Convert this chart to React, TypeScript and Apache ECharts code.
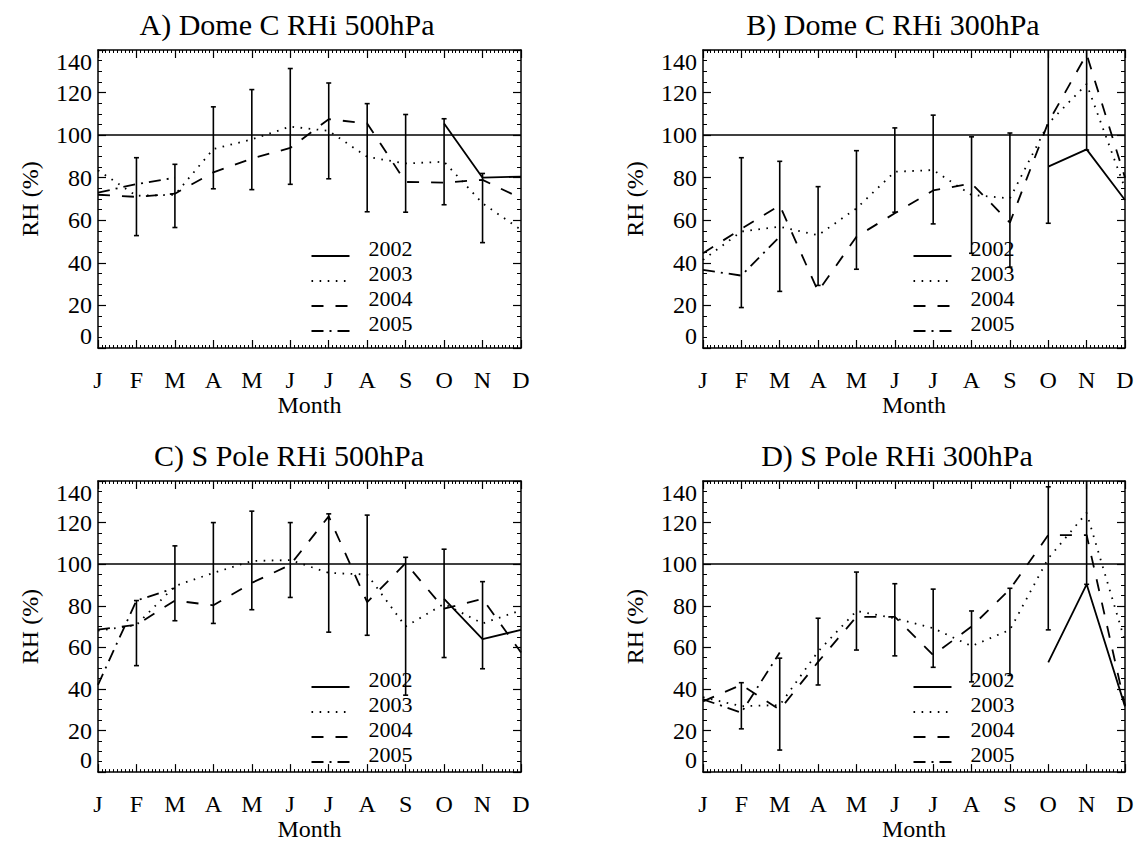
import React, { useEffect, useRef } from "react";
import * as echarts from "echarts";

const FONT = "'Liberation Serif', 'DejaVu Serif', 'Times New Roman', serif";

const MONTHS = ["J", "F", "M", "A", "M", "J", "J", "A", "S", "O", "N", "D"];
const YEARS = ["2002", "2003", "2004", "2005"];
const Y_MIN = 0;
const Y_MAX = 140;
const Y_STEP = 20;

type Row = (number | null)[];
const _ = null;

// A) Dome C, 500 hPa
const domeC500_2002: Row = [_, _, _, _, _, _, _, _, _, 105.5, 80, 80.5];
const domeC500_2003: Row = [83.5, 71.5, 72, 93.5, 98, 104, 102, 89.8, 86.7, 87.5, 68, 55.5];
const domeC500_2004: Row = [72, 71, 72.5, 82.5, 89, 94, 107.5, 105.5, 78, 77.7, 79, 70.3];
const domeC500_2005: Row = [73, 77, 80, _, _, _, _, _, _, _, _, _];
const domeC500_low: Row = [_, 52.8, 56.6, 74.8, 74.4, 76.9, 79.5, 64, 63.8, 67.3, 49.5, _];
const domeC500_high: Row = [_, 89.4, 86.3, 113.3, 121.4, 131.3, 124.5, 114.8, 109.7, 107.7, 82, _];

// B) Dome C, 300 hPa
const domeC300_2002: Row = [_, _, _, _, _, _, _, _, _, 85.2, 93.3, 69.5];
const domeC300_2003: Row = [41.4, 54.7, 57, 53, 65.6, 82.8, 83.6, 71.9, 70.3, 105.5, 124, 75];
const domeC300_2004: Row = [44.5, 56, 67, 26.6, 52.3, 63.3, 74, 77.3, 58.9, 106, 138, 80];
const domeC300_2005: Row = [36.7, 34, 52.3, _, _, _, _, _, _, _, _, _];
const domeC300_low: Row = [_, 19, 26.6, 29.4, 37, 63.8, 58.3, 44.5, 38, 58.6, 93, _];
const domeC300_high: Row = [_, 89.4, 87.7, 75.8, 92.7, 103.4, 109.4, 99.2, 101, 150, 150, _];

// C) South Pole, 500 hPa
const sPole500_2002: Row = [_, _, _, _, _, _, _, _, _, 83.3, 64, 68.4];
const sPole500_2003: Row = [68, 70.8, 89.5, 95.8, 101.5, 102, 95.8, 95, 70, 80.9, 71.5, 77.8];
const sPole500_2004: Row = [68.5, 70.8, 82.5, 80.2, 91, 99.7, 123, 81.7, 100.5, 78.6, 83.3, 57.5];
const sPole500_2005: Row = [42, 82.5, 88.5, _, _, _, _, _, _, _, _, _];
const sPole500_low: Row = [_, 51.2, 72.8, 71.5, 78.1, 84, 67.3, 65.8, 37, 55.1, 49.7, _];
const sPole500_high: Row = [_, 82.5, 108.8, 120, 125.5, 120, 124.2, 123.6, 103.3, 107.2, 91.6, _];

// D) South Pole, 300 hPa
const sPole300_2002: Row = [_, _, _, _, _, _, _, _, _, 52.8, 90.3, 31.6];
const sPole300_2003: Row = [36, 31.7, 32.2, 58, 77.5, 74, 69.2, 60.6, 68.4, 102.8, 124.7, 63];
const sPole300_2004: Row = [34, 42, 30, 53, 74.7, 74.7, 56.3, 70, 87.9, 114, 114, 32];
const sPole300_2005: Row = [35, 28.6, 57.5, _, _, _, _, _, _, _, _, _];
const sPole300_low: Row = [_, 20.8, 10.6, 41.9, 58.7, 55.9, 50.4, 43.4, 46.5, 68.4, 90.3, _];
const sPole300_high: Row = [_, 43, 54.8, 74, 96.2, 90.6, 88, 77.5, 88.4, 137.2, 150, _];

const PANELS = [
  {
    title: "A) Dome C RHi 500hPa",
    years: [domeC500_2002, domeC500_2003, domeC500_2004, domeC500_2005],
    low: domeC500_low,
    high: domeC500_high,
  },
  {
    title: "B) Dome C RHi 300hPa",
    years: [domeC300_2002, domeC300_2003, domeC300_2004, domeC300_2005],
    low: domeC300_low,
    high: domeC300_high,
  },
  {
    title: "C) S Pole RHi 500hPa",
    years: [sPole500_2002, sPole500_2003, sPole500_2004, sPole500_2005],
    low: sPole500_low,
    high: sPole500_high,
  },
  {
    title: "D) S Pole RHi 300hPa",
    years: [sPole300_2002, sPole300_2003, sPole300_2004, sPole300_2005],
    low: sPole300_low,
    high: sPole300_high,
  },
];

// plot boxes (left, top, width, height) and where each title / key sits
const BOXES = [
  { left: 98, top: 50, width: 423, height: 298, titleX: 282, keyDx: 213.5 },
  { left: 703, top: 50, width: 422, height: 298, titleX: 888, keyDx: 210.5 },
  { left: 98, top: 481, width: 423, height: 298, titleX: 284, keyDx: 213.5 },
  { left: 703, top: 481, width: 422, height: 298, titleX: 892, keyDx: 210.5 },
];
// key rows: sample-line / text-baseline offsets below the plot top
const KEY_ROWS = [206, 231, 256, 281];
const KEY_LINE = 38;
const KEY_TEXT_GAP = 19;
const KEY_FONT = 22;

// 2002 solid, 2003 dotted, 2004 dashed, 2005 dash-dot
const DASHES: (string | number[])[] = ["solid", [1.6, 6.5], [12, 12], [12, 6, 2, 6]];

const INK = "#000";

function buildOption() {
  const grid = BOXES.map((b) => ({
    left: b.left,
    top: b.top,
    width: b.width,
    height: b.height,
    containLabel: false,
  }));

  const xAxis: any[] = [];
  const yAxis: any[] = [];
  BOXES.forEach((_b, g) => {
    const common = {
      type: "value",
      gridIndex: g,
      min: 0,
      max: 11,
      interval: 1,
      splitLine: { show: false },
      axisLine: { show: true, onZero: false, lineStyle: { color: INK, width: 1.5 } },
      axisTick: { show: true, inside: true, length: 8, lineStyle: { color: INK, width: 1.2 } },
      minorTick: { show: true, splitNumber: 10, length: 3, lineStyle: { color: INK, width: 1 } },
    };
    xAxis.push({
      ...common,
      position: "bottom",
      axisLabel: {
        formatter: (v: number) => MONTHS[v] ?? "",
        fontFamily: FONT,
        fontSize: 24,
        color: INK,
        margin: 20,
      },
      name: "Month",
      nameLocation: "middle",
      nameGap: 43,
      nameTextStyle: { fontFamily: FONT, fontSize: 24, color: INK },
    });
    xAxis.push({ ...common, position: "top", axisLabel: { show: false } });

    const ycommon = {
      type: "value",
      gridIndex: g,
      min: Y_MIN,
      max: Y_MAX,
      interval: Y_STEP,
      splitLine: { show: false },
      axisLine: { show: true, onZero: false, lineStyle: { color: INK, width: 1.5 } },
      axisTick: { show: true, inside: true, length: 8, lineStyle: { color: INK, width: 1.2 } },
      minorTick: { show: true, splitNumber: 4, length: 4, lineStyle: { color: INK, width: 1 } },
    };
    yAxis.push({
      ...ycommon,
      position: "left",
      axisLabel: {
        fontFamily: FONT,
        fontSize: 24,
        color: INK,
        margin: 6,
        verticalAlignMinLabel: "bottom",
        verticalAlignMaxLabel: "top",
      },
      name: "RH (%)",
      nameLocation: "middle",
      nameGap: 56,
      nameTextStyle: { fontFamily: FONT, fontSize: 24, color: INK },
    });
    yAxis.push({ ...ycommon, position: "right", axisLabel: { show: false } });
  });

  const series: any[] = [];
  PANELS.forEach((p, g) => {
    p.years.forEach((row, k) => {
      series.push({
        type: "line",
        name: YEARS[k],
        xAxisIndex: 2 * g,
        yAxisIndex: 2 * g,
        data: row.map((v, i) => [i, v]).filter((d) => d[1] !== null),
        symbol: "none",
        lineStyle: { color: INK, width: 1.8, type: DASHES[k] },
        itemStyle: { color: INK },
        clip: true,
        silent: true,
        markLine:
          k === 1
            ? {
                silent: true,
                symbol: "none",
                label: { show: false },
                lineStyle: { color: INK, width: 1.5, type: "solid" },
                data: [{ yAxis: 100 }],
              }
            : undefined,
      });
    });
    const bars = p.low
      .map((lo, i) => [i, lo, p.high[i]])
      .filter((d) => d[1] !== null && d[2] !== null);
    series.push({
      type: "custom",
      name: "spread",
      xAxisIndex: 2 * g,
      yAxisIndex: 2 * g,
      clip: true,
      silent: true,
      encode: { x: 0, y: [1, 2] },
      data: bars,
      renderItem: (_params: any, api: any) => {
        const x = api.value(0);
        const lo = api.coord([x, api.value(1)]);
        const hi = api.coord([x, api.value(2)]);
        const cap = 2.5;
        const style = { stroke: INK, lineWidth: 1.6 };
        return {
          type: "group",
          children: [
            { type: "line", shape: { x1: lo[0], y1: lo[1], x2: hi[0], y2: hi[1] }, style },
            { type: "line", shape: { x1: lo[0] - cap, y1: lo[1], x2: lo[0] + cap, y2: lo[1] }, style },
            { type: "line", shape: { x1: hi[0] - cap, y1: hi[1], x2: hi[0] + cap, y2: hi[1] }, style },
          ],
        };
      },
    });
  });

  const title = PANELS.map((p, g) => ({
    text: p.title,
    left: BOXES[g].titleX,
    top: BOXES[g].top - 46,
    textAlign: "center",
    textStyle: { fontFamily: FONT, fontSize: 30, fontWeight: "normal", color: INK },
  }));

  // year key in each panel: a line sample sitting on the text baseline
  const graphic: any[] = [];
  BOXES.forEach((b) => {
    YEARS.forEach((year, k) => {
      const y = b.top + KEY_ROWS[k];
      const x0 = b.left + b.keyDx;
      graphic.push({
        type: "line",
        silent: true,
        shape: { x1: x0, y1: y, x2: x0 + KEY_LINE, y2: y },
        style: {
          stroke: INK,
          lineWidth: 1.8,
          lineDash: typeof DASHES[k] === "string" ? null : DASHES[k],
        },
      });
      graphic.push({
        type: "text",
        silent: true,
        x: x0 + KEY_LINE + KEY_TEXT_GAP,
        y: y - 7.5,
        style: {
          text: year,
          font: `${KEY_FONT}px ${FONT}`,
          lineHeight: 22,
          fill: INK,
          verticalAlign: "middle",
          align: "left",
        },
      });
    });
  });

  return {
    animation: false,
    backgroundColor: "#fff",
    title,
    grid,
    xAxis,
    yAxis,
    series,
    graphic,
  };
}

export default function App() {
  const ref = useRef<HTMLDivElement>(null);
  useEffect(() => {
    if (!ref.current) return;
    const chart = echarts.init(ref.current, undefined, { renderer: "svg" });
    chart.setOption(buildOption());
    return () => chart.dispose();
  }, []);
  return (
    <div
      ref={ref}
      style={{ position: "absolute", left: 0, top: 0, width: 1138, height: 842, background: "#fff" }}
    />
  );
}
